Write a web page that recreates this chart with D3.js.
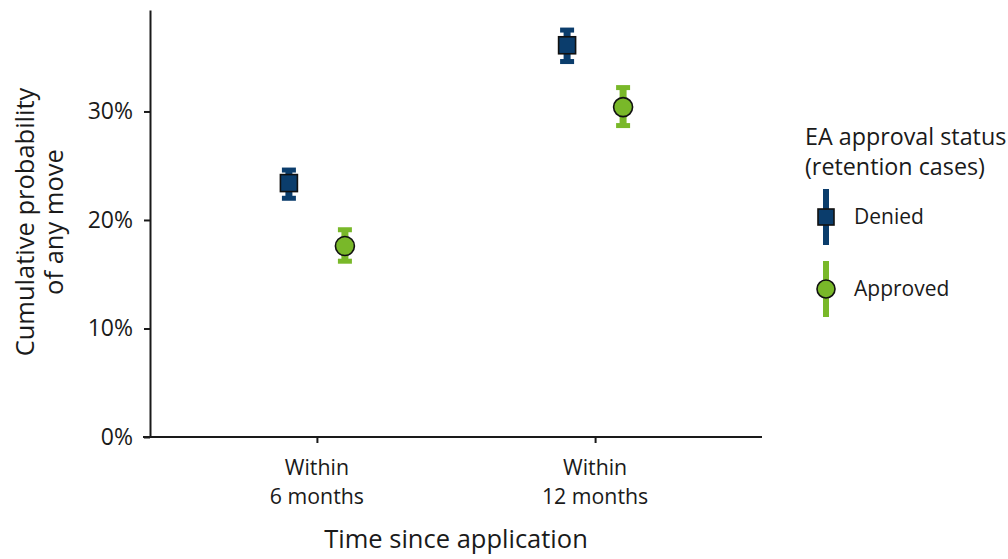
<!DOCTYPE html>
<html>
<head>
<meta charset="utf-8">
<script src="https://cdn.jsdelivr.net/npm/d3@7"></script>
<style>
  body { margin: 0; background: #fff; }
  text { font-family: "Open Sans", "Noto Sans", sans-serif; fill: #1a1a1a; }
</style>
</head>
<body>
<div id="chart"></div>
<script>
// Data
var periods = ["Within 6 months", "Within 12 months"];
var periodLines = [["Within", "6 months"], ["Within", "12 months"]];
var groups = ["Denied", "Approved"];
var deniedMean = [0.234, 0.361];
var deniedLow = [0.220, 0.346];
var deniedHigh = [0.246, 0.375];
var approvedMean = [0.176, 0.304];
var approvedLow = [0.162, 0.287];
var approvedHigh = [0.191, 0.322];
var yTicks = [0, 0.1, 0.2, 0.3];

var svgWidth = 1008;
var svgHeight = 559;
var margin = { top: 10, right: 246, bottom: 122, left: 150 };
var width = svgWidth - margin.left - margin.right;
var height = svgHeight - margin.top - margin.bottom;

var colors = { Denied: "#0b3d6c", Approved: "#79b829" };

var svg = d3.select("#chart")
  .append("svg")
  .attr("width", svgWidth)
  .attr("height", svgHeight);

var chartGroup = svg.append("g")
  .attr("transform", `translate(${margin.left}, ${margin.top})`);

// scales
var xScale = d3.scalePoint()
  .domain(periods)
  .range([0, width])
  .padding(0.6);

var groupOffset = d3.scalePoint()
  .domain(groups)
  .range([-28, 28]);

var yScale = d3.scaleLinear()
  .domain([0, 0.3935])
  .range([height, 0]);

// axes
var leftAxis = d3.axisLeft(yScale)
  .tickValues(yTicks)
  .tickFormat(d3.format(".0%"))
  .tickSize(6)
  .tickSizeOuter(0)
  .tickPadding(11);

var bottomAxis = d3.axisBottom(xScale)
  .tickSize(6)
  .tickSizeOuter(0)
  .tickFormat("");

var yAxisG = chartGroup.append("g").call(leftAxis);
var xAxisG = chartGroup.append("g")
  .attr("transform", `translate(0, ${height})`)
  .call(bottomAxis);

[yAxisG, xAxisG].forEach(function(g) {
  g.select(".domain").attr("stroke", "#1a1a1a").attr("stroke-width", 2);
  g.selectAll(".tick line").attr("stroke", "#1a1a1a").attr("stroke-width", 2);
});
// extend x axis line left to meet the 0% tick
xAxisG.select(".domain").attr("d", `M-7,0H${width}`);

yAxisG.selectAll(".tick text")
  .attr("font-size", 23)
  .attr("fill", "#1a1a1a")
  .style("font-family", "'Open Sans', sans-serif");

// two-line category labels, one text per line
periods.forEach(function(p, i) {
  periodLines[i].forEach(function(line, j) {
    chartGroup.append("text")
      .attr("x", xScale(p))
      .attr("y", height + 38 + j * 29)
      .attr("text-anchor", "middle")
      .attr("font-size", 21.3)
      .text(line);
  });
});

// build series rows
var rows = [];
periods.forEach(function(p, i) {
  rows.push({ group: "Denied", period: p, mean: deniedMean[i], low: deniedLow[i], high: deniedHigh[i] });
  rows.push({ group: "Approved", period: p, mean: approvedMean[i], low: approvedLow[i], high: approvedHigh[i] });
});

var cx = d => xScale(d.period) + groupOffset(d.group);

// error bars: stem + caps
var errGroup = chartGroup.selectAll(".err")
  .data(rows)
  .enter()
  .append("g")
  .attr("class", "err");

errGroup.append("line")
  .attr("x1", cx).attr("x2", cx)
  .attr("y1", d => yScale(d.high))
  .attr("y2", d => yScale(d.low))
  .attr("stroke", d => colors[d.group])
  .attr("stroke-width", 7);

errGroup.append("line")
  .attr("x1", d => cx(d) - 7).attr("x2", d => cx(d) + 7)
  .attr("y1", d => yScale(d.high)).attr("y2", d => yScale(d.high))
  .attr("stroke", d => colors[d.group])
  .attr("stroke-width", 5);

errGroup.append("line")
  .attr("x1", d => cx(d) - 7).attr("x2", d => cx(d) + 7)
  .attr("y1", d => yScale(d.low)).attr("y2", d => yScale(d.low))
  .attr("stroke", d => colors[d.group])
  .attr("stroke-width", 5);

// markers
chartGroup.selectAll(".sq")
  .data(rows.filter(d => d.group === "Denied"))
  .enter()
  .append("rect")
  .attr("class", "sq")
  .attr("x", d => cx(d) - 8.5)
  .attr("y", d => yScale(d.mean) - 8.5)
  .attr("width", 17)
  .attr("height", 17)
  .attr("fill", colors.Denied)
  .attr("stroke", "#111")
  .attr("stroke-width", 1.6);

chartGroup.selectAll(".dot")
  .data(rows.filter(d => d.group === "Approved"))
  .enter()
  .append("circle")
  .attr("class", "dot")
  .attr("cx", cx)
  .attr("cy", d => yScale(d.mean))
  .attr("r", 9.5)
  .attr("fill", colors.Approved)
  .attr("stroke", "#111")
  .attr("stroke-width", 1.6);

// axis titles
svg.append("text")
  .attr("transform", "translate(34, 222) rotate(-90)")
  .attr("text-anchor", "middle")
  .attr("font-size", 25.5)
  .text("Cumulative probability");

svg.append("text")
  .attr("transform", "translate(63, 222) rotate(-90)")
  .attr("text-anchor", "middle")
  .attr("font-size", 25.5)
  .text("of any move");

svg.append("text")
  .attr("x", 456)
  .attr("y", 548)
  .attr("text-anchor", "middle")
  .attr("font-size", 25.5)
  .text("Time since application");

// legend
var legend = svg.append("g").attr("transform", "translate(805, 0)");
legend.append("text").attr("x", 0).attr("y", 145).attr("font-size", 23.3).text("EA approval status");
legend.append("text").attr("x", 0).attr("y", 175).attr("font-size", 23.3).text("(retention cases)");

var legendItems = legend.selectAll(".leg")
  .data(groups)
  .enter()
  .append("g")
  .attr("class", "leg")
  .attr("transform", (d, i) => `translate(21, ${217 + i * 72})`);

legendItems.append("line")
  .attr("y1", -28).attr("y2", 28)
  .attr("stroke", d => colors[d])
  .attr("stroke-width", 6);

legendItems.filter(d => d === "Denied").append("rect")
  .attr("x", -8).attr("y", -8).attr("width", 16).attr("height", 16)
  .attr("fill", colors.Denied).attr("stroke", "#111").attr("stroke-width", 1.6);

legendItems.filter(d => d === "Approved").append("circle")
  .attr("r", 9)
  .attr("fill", colors.Approved).attr("stroke", "#111").attr("stroke-width", 1.6);

legendItems.append("text")
  .attr("x", 28)
  .attr("dy", "0.35em")
  .attr("font-size", 21)
  .text(d => d);
</script>
</body>
</html>
